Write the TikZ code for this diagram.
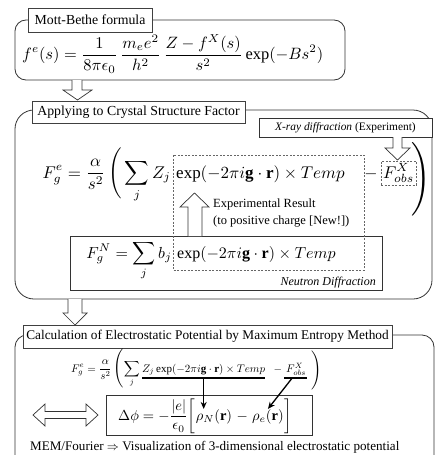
\documentclass[tikz,border=0pt]{standalone}
\usepackage{amsmath}
\usepackage{graphicx}
\usepackage{fontspec}
\setmainfont{Liberation Serif}
\usetikzlibrary{arrows.meta,fit}
\begin{document}
\begin{tikzpicture}[x=1pt,y=-1pt,
  frame/.style={draw=black!80, line width=0.8pt},
  titlebox/.style={draw=black!75, fill=white, line width=0.7pt, inner sep=0pt, font=\fontsize{13.8}{16}\selectfont},
  eq/.style={inner sep=0pt},
  dashbox/.style={draw=black!60, line width=0.6pt, dash pattern=on 2pt off 1.5pt},
  hollow/.style={draw=black!80, fill=white, line width=0.7pt, line join=miter},
  plainbox/.style={draw=black!80, fill=white, line width=0.7pt, inner sep=0pt},
  smalltxt/.style={inner sep=0pt, font=\fontsize{12.5}{17}\selectfont},
  conn/.style={line width=1.3pt, -{Stealth[length=7pt,width=6pt]}},
  uline/.style={line width=1.3pt}
]
\useasboundingbox (0,0) rectangle (437,455);

% ---------- Box 1: Mott-Bethe ----------
\draw[frame, rounded corners=11pt] (15,20) rectangle (345,80);
\node[titlebox, minimum width=124pt, minimum height=24pt] (t1) at (90,20) {Mott-Bethe formula};
\node[eq, anchor=west] (mb) at (22,54) {\resizebox{301pt}{!}{$\displaystyle f^e(s)=\frac{1}{8\pi\epsilon_0}\,\frac{m_e e^2}{h^2}\,\frac{Z-f^X(s)}{s^2}\exp(-Bs^2)$}};

% hollow arrow 1
\draw[hollow] (72,80) -- (72,90) -- (63,90) -- (77.5,100) -- (92,90) -- (82,90) -- (82,80);

% ---------- Box 2: Crystal structure factor ----------
\draw[frame, rounded corners=19pt] (15,110) rectangle (432,299);
\node[titlebox, minimum width=213pt, minimum height=22pt] (t2) at (138.5,112) {Applying to Crystal Structure Factor};
\node[plainbox, minimum width=173pt, minimum height=19pt, font=\fontsize{11.4}{14}\selectfont] (xr) at (345.5,127.5) {\textit{X-ray diffraction} (Experiment)};
\draw[hollow] (393,137) -- (393,148) -- (385,148) -- (397.5,160) -- (410,148) -- (402,148) -- (402,137);

% main formula
\node[eq, anchor=base east] (eqL) at (171,178) {\scalebox{1.7}{$\displaystyle F_g^e=\frac{\alpha}{s^2}\,\Bigg(\sum_j Z_j$}};
\node[eq, anchor=base west] (eqM) at (176,178) {\scalebox{1.7}{$\exp(-2\pi i\mathbf{g}\cdot\mathbf{r})\times Temp$}};
\node[eq, anchor=base] (eqMinus) at (371,178) {\scalebox{1.7}{$-$}};
\node[eq, anchor=base west] (eqF) at (383,178) {\scalebox{1.7}{$F^X_{obs}$}};
\node[dashbox, fit=(eqF), inner xsep=2pt, inner ysep=2pt] (fbox) {};
\node[eq] (rp) at (421,179) {\scalebox{2.45}{$\Bigg)$}};

% neutron box
\node[plainbox, minimum width=312pt, minimum height=54pt] (nbox) at (226,263) {};
\node[eq, anchor=base east] (nL) at (172,258) {\scalebox{1.6}{$\displaystyle F_g^N=\sum_j b_j$}};
\node[eq, anchor=base west] (nM) at (177,258) {\scalebox{1.6}{$\exp(-2\pi i\mathbf{g}\cdot\mathbf{r})\times Temp$}};
\node[smalltxt, anchor=base east, font=\fontsize{12}{14}\selectfont\itshape] (nd) at (376,285) {Neutron Diffraction};

% dashed box across both exp terms
\draw[dashbox] (173,155) rectangle (364,270);

% hollow up arrow + experimental result
\draw[hollow] (188,236) -- (188,207) -- (180,207) -- (194.5,193) -- (209,207) -- (202,207) -- (202,236);
\node[smalltxt, anchor=north west, align=left] (er) at (213,199) {Experimental Result\\(to positive charge [New!])};

% hollow arrow 2
\draw[hollow] (68,299) -- (68,313) -- (63,313) -- (75,325) -- (87,313) -- (82,313) -- (82,299);

% ---------- Box 3: MEM ----------
\draw[frame, rounded corners=12pt] (15,470) -- (15,335) -- (434,335) -- (434,470);
\node[titlebox, minimum width=369pt, minimum height=23pt, font=\fontsize{13.3}{16}\selectfont] (t3) at (207.5,336.5) {Calculation of Electrostatic Potential by Maximum Entropy Method};

\node[eq, anchor=base east] (m1) at (140,372) {\scalebox{1.1}{$\displaystyle F_g^e=\frac{\alpha}{s^2}\,\mathopen{\scalebox{1.18}{$\Bigg($}}\sum_j$}};
\node[eq, anchor=base west] (m2) at (142,372) {\scalebox{1.1}{$Z_j\exp(-2\pi i\mathbf{g}\cdot\mathbf{r})\times Temp$}};
\node[eq, anchor=base] (m3) at (278,372) {\scalebox{1.1}{$-$}};
\node[eq, anchor=base west] (m4) at (286,372) {\scalebox{1.1}{$F^X_{obs}$}};
\node[eq, anchor=west] (m5) at (311,370.5) {\scalebox{1.3}{$\Bigg)$}};
\coordinate (u1) at ([yshift=-6pt]m2.base);
\coordinate (u2) at ([yshift=-6pt,xshift=-4pt]m4.base);
\draw[uline] ([yshift=-6pt]m2.base west) -- ([yshift=-6pt]m2.base east);
\draw[uline] ([yshift=-6pt,xshift=-2pt]m4.base west) -- ([yshift=-6pt,xshift=1pt]m4.base east);

% delta phi box
\node[plainbox, minimum width=206pt, minimum height=40pt] (dbox) at (209,415) {};
\node[eq, anchor=base west] (d1) at (118,420) {\scalebox{1.45}{$\displaystyle \Delta\phi=-\frac{|e|}{\epsilon_0}\bigg[$}};
\node[eq, anchor=base west] (dN) at (d1.base east) {\scalebox{1.45}{$\rho_N(\mathbf{r})$}};
\node[eq, anchor=base west] (dm) at (dN.base east) {\scalebox{1.45}{$\;-\;$}};
\node[eq, anchor=base west] (de) at (dm.base east) {\scalebox{1.45}{$\rho_e(\mathbf{r})$}};
\node[eq, anchor=base west] (d5) at (de.base east) {\scalebox{1.45}{$\bigg]$}};

\draw[conn] (u1) -- (u1 |- dN.north);
\draw[conn] (u2) -- (de.north);

% double hollow arrow
\draw[hollow] (33,415) -- (45,404) -- (45,411.5) -- (86,411.5) -- (86,404) -- (98,415) -- (86,426) -- (86,418.5) -- (45,418.5) -- (45,426) -- cycle;

\node[smalltxt, anchor=base west, font=\fontsize{13.1}{16}\selectfont] (mem) at (30,450) {MEM/Fourier $\Rightarrow$ Visualization of 3-dimensional electrostatic potential};
\end{tikzpicture}
\end{document}
